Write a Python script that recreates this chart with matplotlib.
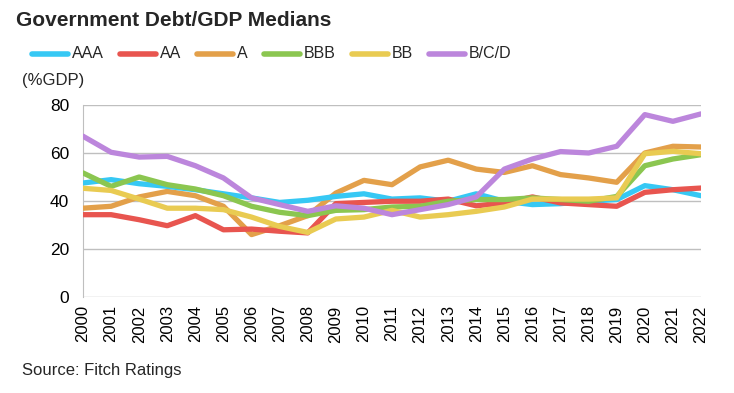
import matplotlib
matplotlib.use("Agg")
import matplotlib.pyplot as plt
from matplotlib.lines import Line2D

years = list(range(2000, 2023))

aaa = [47.5, 48.9, 47.2, 46.1, 44.7, 43.0, 41.3, 39.4, 40.3, 41.9, 43.0, 40.8,
       41.3, 39.9, 43.0, 39.9, 38.5, 38.9, 39.9, 40.6, 46.4, 44.7, 42.2]
aa = [34.3, 34.3, 32.2, 29.7, 33.9, 28.0, 28.3, 27.4, 26.7, 38.9, 39.4, 39.9,
      39.9, 40.8, 38.0, 39.2, 41.7, 39.2, 38.5, 37.8, 43.6, 44.7, 45.4]
a = [37.0, 37.8, 41.7, 44.0, 42.2, 37.8, 26.0, 29.7, 33.9, 43.3, 48.6, 46.8,
     54.2, 57.0, 53.3, 51.9, 54.7, 51.0, 49.6, 47.8, 60.0, 62.8, 62.5]
bbb = [51.7, 46.1, 50.0, 46.8, 45.0, 42.2, 37.8, 35.3, 33.9, 36.1, 36.4, 37.5,
       37.8, 39.9, 40.6, 40.6, 41.3, 40.6, 39.9, 41.9, 54.7, 57.5, 59.3]
bb = [45.3, 44.4, 40.8, 37.0, 37.0, 36.4, 33.3, 29.4, 26.9, 32.5, 33.3, 36.1,
      33.3, 34.3, 35.7, 37.5, 40.8, 40.8, 40.8, 41.3, 59.7, 60.7, 59.7]
bcd = [67.0, 60.3, 58.3, 58.6, 54.7, 49.6, 41.3, 38.5, 35.7, 38.0, 37.0, 34.3,
       36.4, 38.5, 41.7, 53.3, 57.5, 60.6, 60.0, 62.8, 76.0, 73.2, 76.3]

labels = ["AAA", "AA", "A", "BBB", "BB", "B/C/D"]
series = [aaa, aa, a, bbb, bb, bcd]
colors = ["#36C8F4", "#E8554F", "#E3A04A", "#8BC650", "#E9CB52", "#BC86DC"]

plt.rcParams["font.family"] = ["Liberation Sans", "DejaVu Sans"]
W, H = 734, 393

fig = plt.figure(figsize=(W / 100, H / 100), dpi=100)
ax = fig.add_axes([83 / W, 1 - 297 / H, (701 - 83) / W, (297 - 105) / H])

# draw in order so purple ends on top
order = [2, 0, 1, 3, 4, 5]
for i in order:
    ax.plot(years, series[i], color=colors[i], lw=3.8,
            solid_capstyle="round", solid_joinstyle="round", zorder=3)

ax.set_xlim(2000, 2022)
ax.set_ylim(0, 80)
ax.set_yticks([0, 20, 40, 60, 80])
ax.set_xticks(years)
ax.set_xticklabels([str(y) for y in years], rotation=90, fontsize=12)
ax.tick_params(axis="y", labelsize=12.5, length=0, pad=10)
ax.tick_params(axis="x", length=0, pad=6)
ax.grid(axis="y", color="#BFBFBF", lw=1)
ax.set_axisbelow(True)
for s in ["top", "right", "bottom"]:
    ax.spines[s].set_visible(False)
ax.spines["left"].set_color("#BFBFBF")

fig.text(16 / W, 1 - 20 / H, "Government Debt/GDP Medians", fontsize=15,
         fontweight="bold", color="#262626", va="center", ha="left")
fig.text(22 / W, 1 - 80 / H, "(%GDP)", fontsize=12, color="#262626",
         va="center", ha="left")
fig.text(22 / W, 1 - 371 / H, "Source: Fitch Ratings", fontsize=12,
         color="#262626", va="center", ha="left")

# legend drawn by hand: line, label, then a gap before the next entry
renderer = fig.canvas.get_renderer()
leg_y = 1 - 54 / H
x0 = 32
for lab, c in zip(labels, colors):
    fig.add_artist(Line2D([x0 / W, (x0 + 36) / W], [leg_y, leg_y], color=c,
                          lw=4, solid_capstyle="round",
                          transform=fig.transFigure))
    t = fig.text((x0 + 40) / W, leg_y, lab, fontsize=11.5, color="#262626",
                 va="center", ha="left")
    x0 = x0 + 40 + t.get_window_extent(renderer).width + 16

fig.savefig("out.png", dpi=100)
